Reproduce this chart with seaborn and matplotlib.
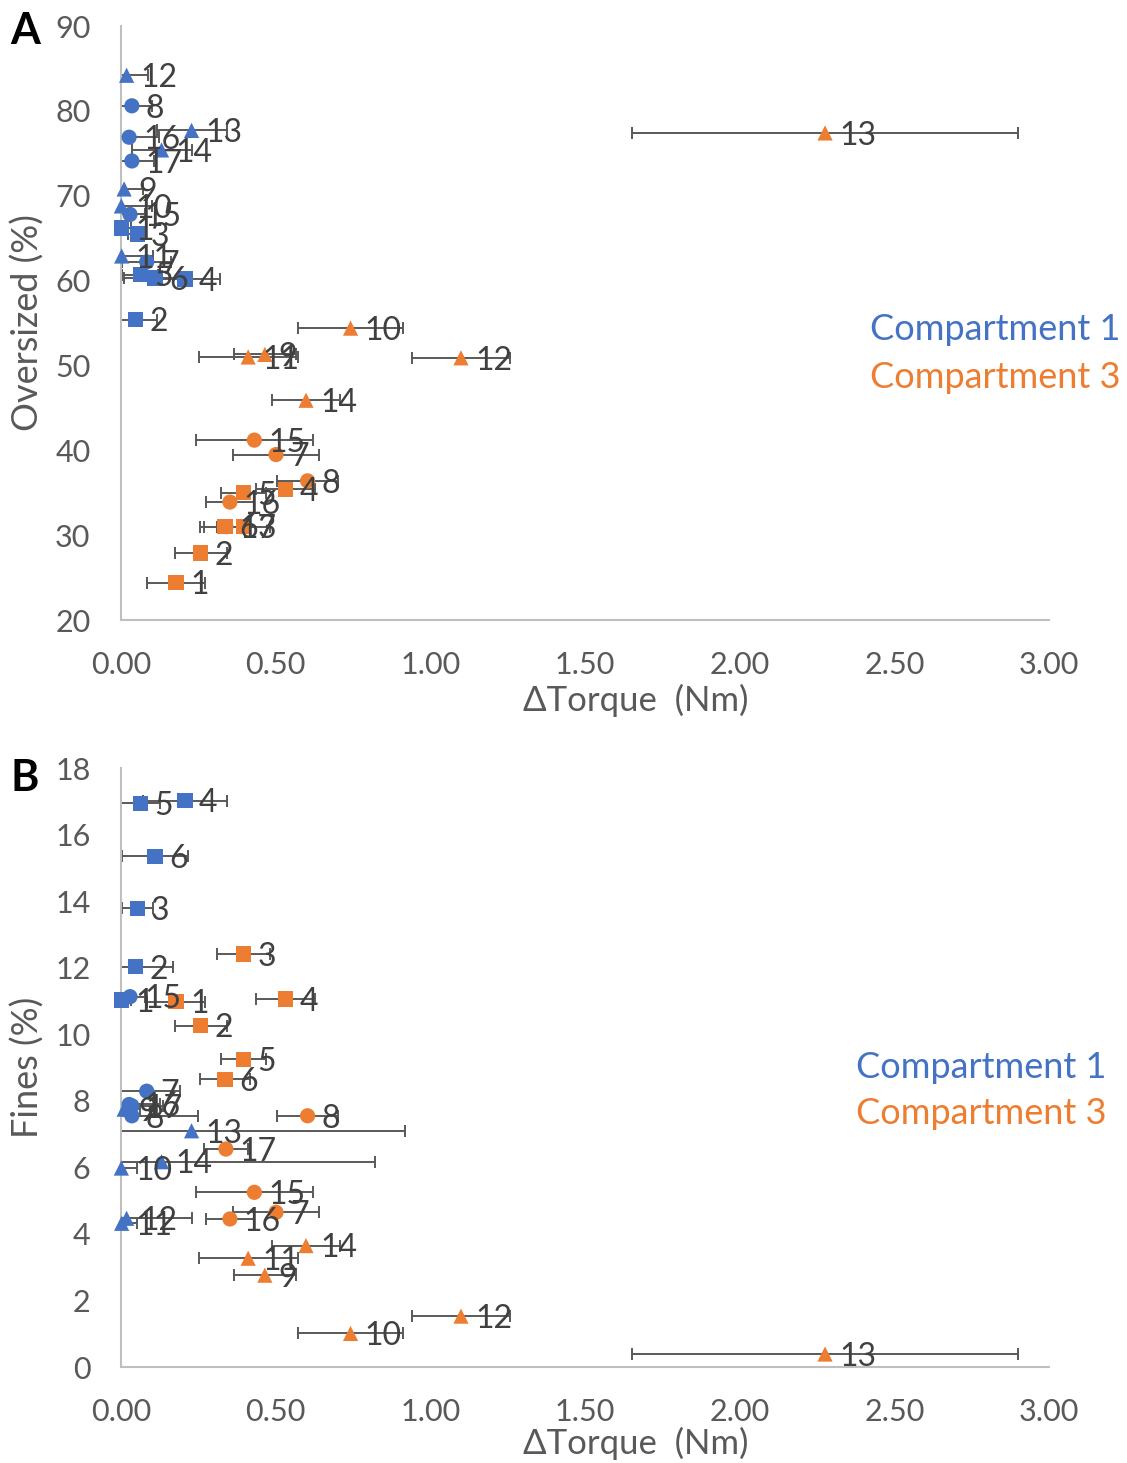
import numpy as np
import pandas as pd
import matplotlib
matplotlib.use("Agg")
import matplotlib.pyplot as plt
import seaborn as sns

# Sample numbers and their marker group
samples = list(range(1, 18))
shape_group = ["sq", "sq", "sq", "sq", "sq", "sq", "ci", "ci", "tr", "tr",
               "tr", "tr", "tr", "tr", "ci", "ci", "ci"]

# Compartment 1
torque_c1 = [0.002, 0.047, 0.052, 0.207, 0.062, 0.110, 0.083, 0.035, 0.010, 0.001,
             0.002, 0.018, 0.228, 0.131, 0.029, 0.026, 0.035]
oversized_c1 = [66.2, 55.4, 65.5, 60.2, 60.7, 60.3, 62.2, 80.6, 70.8, 68.8,
                62.9, 84.2, 77.7, 75.4, 67.8, 76.9, 74.1]
fines_c1 = [11.03, 12.03, 13.78, 17.02, 16.94, 15.35, 8.29, 7.55, 7.75, 5.98,
            4.32, 4.47, 7.10, 6.17, 11.13, 7.89, 7.85]
err_over_c1 = [0.03, 0.07, 0.03, 0.113, 0.058, 0.10, 0.08, 0.065, 0.06, 0.10,
               0.10, 0.07, 0.113, 0.097, 0.05, 0.097, 0.07]
err_fines_c1 = [0.03, 0.12, 0.05, 0.135, 0.063, 0.107, 0.107, 0.215, 0.05, 0.05,
                0.05, 0.21, 0.69, 0.69, 0.05, 0.10, 0.10]

# Compartment 3
torque_c3 = [0.178, 0.258, 0.395, 0.532, 0.395, 0.336, 0.501, 0.603, 0.465, 0.742,
             0.411, 1.099, 2.276, 0.598, 0.431, 0.352, 0.339]
oversized_c3 = [24.4, 27.9, 31.0, 35.4, 35.0, 31.0, 39.5, 36.4, 51.3, 54.4,
                51.0, 50.9, 77.4, 45.9, 41.2, 33.9, 31.0]
fines_c3 = [10.98, 10.26, 12.41, 11.06, 9.25, 8.65, 4.65, 7.55, 2.76, 1.01,
            3.27, 1.53, 0.39, 3.65, 5.25, 4.45, 6.55]
err_c3 = [0.095, 0.085, 0.086, 0.095, 0.073, 0.081, 0.139, 0.10, 0.10, 0.171,
          0.16, 0.157, 0.624, 0.109, 0.188, 0.078, 0.07]

x_ticks = [0.0, 0.5, 1.0, 1.5, 2.0, 2.5, 3.0]
over_ticks = [20, 30, 40, 50, 60, 70, 80, 90]
fines_ticks = [0, 2, 4, 6, 8, 10, 12, 14, 16, 18]

BLUE = "#4472C4"
ORANGE = "#ED7D31"
GRAY = "#595959"
LABEL = "#404040"

sns.set_theme(style="white")
plt.rcParams["font.family"] = ["Lato", "DejaVu Sans"]

fig = plt.figure(figsize=(11.27, 14.63), dpi=100)
ax_a = fig.add_axes([0.1074, 0.5762, 0.8234, 0.4060])
ax_b = fig.add_axes([0.1074, 0.0656, 0.8234, 0.4094])


def build_frame(y1, y3):
    rows = []
    for i, s in enumerate(samples):
        rows.append(dict(sample=s, torque=torque_c1[i], value=y1[i],
                         comp="Compartment 1", shape=shape_group[i]))
    for i, s in enumerate(samples):
        rows.append(dict(sample=s, torque=torque_c3[i], value=y3[i],
                         comp="Compartment 3", shape=shape_group[i]))
    return pd.DataFrame(rows)


def draw_panel(ax, y1, y3, e1, e3, ylim, yticks, ylabel, xlab_y,
               legend_x, legend_y):
    df = build_frame(y1, y3)
    # horizontal error bars first, so markers sit on top
    ax.errorbar(torque_c1, y1, xerr=e1, fmt="none", ecolor=GRAY,
                elinewidth=1.4, capsize=4, capthick=1.4, zorder=2)
    ax.errorbar(torque_c3, y3, xerr=e3, fmt="none", ecolor=GRAY,
                elinewidth=1.4, capsize=4, capthick=1.4, zorder=2)
    sns.scatterplot(data=df, x="torque", y="value", hue="comp", style="shape",
                    palette={"Compartment 1": BLUE, "Compartment 3": ORANGE},
                    markers={"sq": "s", "ci": "o", "tr": "^"},
                    s=120, linewidth=0, legend=False, ax=ax, zorder=3,
                    clip_on=False)
    for _, r in df.iterrows():
        ax.annotate(str(r["sample"]), (r["torque"], r["value"]),
                    xytext=(10, -2), textcoords="offset points",
                    ha="left", va="center", fontsize=23, color=LABEL,
                    zorder=4, annotation_clip=False)
    ax.set_xlim(0, 3)
    ax.set_ylim(*ylim)
    ax.set_xticks(x_ticks)
    ax.set_xticklabels([f"{t:.2f}" for t in x_ticks])
    ax.set_yticks(yticks)
    ax.tick_params(axis="x", length=0, labelsize=22, labelcolor=GRAY, pad=22)
    ax.tick_params(axis="y", length=0, labelsize=22, labelcolor=GRAY, pad=22)
    ax.set_xlabel("ΔTorque  (Nm)", fontsize=25, color=GRAY, va="center")
    ax.xaxis.set_label_coords(0.555, xlab_y)
    ax.set_ylabel(ylabel, fontsize=26, color=GRAY, va="center")
    ax.yaxis.set_label_coords(-0.101, 0.5)
    for side in ["top", "right"]:
        ax.spines[side].set_visible(False)
    for side in ["left", "bottom"]:
        ax.spines[side].set_color("#BFBFBF")
        ax.spines[side].set_linewidth(1.5)
    ax.grid(False)
    fig.text(legend_x, legend_y[0], "Compartment 1", color=BLUE, fontsize=26,
             ha="right", va="center")
    fig.text(legend_x, legend_y[1], "Compartment 3", color=ORANGE, fontsize=26,
             ha="right", va="center")


draw_panel(ax_a, oversized_c1, oversized_c3, err_over_c1, err_c3,
           (20, 90), over_ticks, "Oversized (%)", -0.135,
           1120 / 1127, (1 - 329 / 1463, 1 - 377 / 1463))
draw_panel(ax_b, fines_c1, fines_c3, err_fines_c1, err_c3,
           (0, 18), fines_ticks, "Fines (%)", -0.127,
           1107 / 1127, (1 - 1067 / 1463, 1 - 1114 / 1463))

fig.text(10 / 1127, 1 - 31 / 1463, "A", fontsize=31, fontweight="bold",
         color="black", ha="left", va="center")
fig.text(10 / 1127, 1 - 778 / 1463, "B", fontsize=31, fontweight="bold",
         color="black", ha="left", va="center")

fig.savefig("out.png", dpi=100)
